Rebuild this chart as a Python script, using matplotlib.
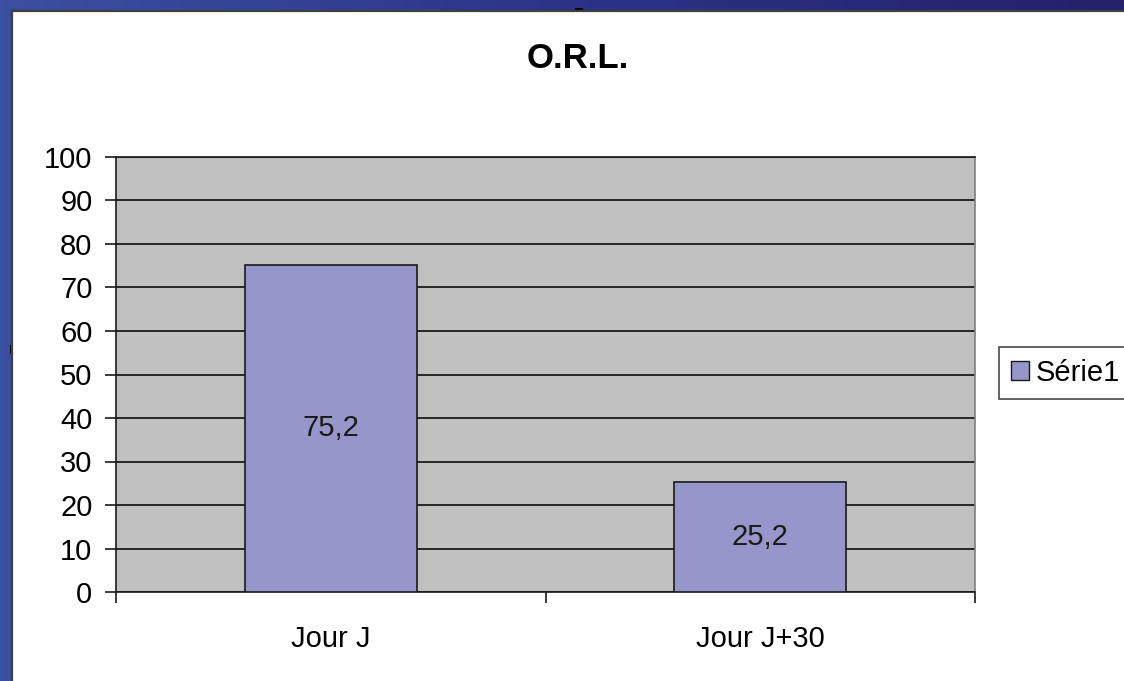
import numpy as np
import matplotlib
matplotlib.use("Agg")
import matplotlib.pyplot as plt
from matplotlib.patches import Rectangle, Patch
from matplotlib.colors import LinearSegmentedColormap

# data
categories = ["Jour J", "Jour J+30"]
values = [75.2, 25.2]
series_name = "Série1"
title = "O.R.L."
yticks = list(range(0, 101, 10))

plt.rcParams['font.family'] = ['Liberation Sans', 'DejaVu Sans']

W, H = 1124, 681
fig = plt.figure(figsize=(W / 100, H / 100), dpi=100)

# slide background (blue gradient) + white chart area
bg = fig.add_axes([0, 0, 1, 1])
bg.set_xlim(0, W)
bg.set_ylim(H, 0)
bg.axis('off')
cmap = LinearSegmentedColormap.from_list("slide", ["#3a50a2", "#2c3488", "#24206a"])
grad = np.linspace(0, 1, 256).reshape(1, -1)
bg.imshow(grad, cmap=cmap, extent=[0, W, H, 0], aspect='auto')
bg.add_patch(Rectangle((12, 10), W, H, facecolor='white', edgecolor='none'))
bg.plot([12, 12], [10, H], color='#404040', lw=1.6)
bg.plot([12, W], [11, 11], color='#404040', lw=1.6)
# small dark marks on the frame
bg.add_patch(Rectangle((575, 8), 8, 3, facecolor='black', edgecolor='none'))
bg.add_patch(Rectangle((10, 345), 3, 9, facecolor='black', edgecolor='none'))

# plot area
left, right, top, bottom = 116, 975, 157, 592
ax = fig.add_axes([left / W, 1 - bottom / H, (right - left) / W, (bottom - top) / H])
ax.set_facecolor('#c0c0c0')

x = np.arange(len(categories))
ax.bar(x, values, width=0.4, color='#9696ca', edgecolor='#1a1a1a', linewidth=1.2,
       zorder=3, label=series_name)
for xi, v in zip(x, values):
    ax.text(xi, v / 2, f"{v:.1f}".replace('.', ','), ha='center', va='center',
            fontsize=21, color='#1a1a1a', zorder=4)

ax.set_xlim(-0.5, len(categories) - 0.5)
ax.set_ylim(0, 100)
ax.set_yticks(yticks)
ax.set_yticklabels([str(t) for t in yticks])
ax.yaxis.grid(True, color='#1a1a1a', linewidth=1.3, zorder=1)
ax.set_axisbelow(True)

ax.set_xticks(x)
ax.set_xticklabels(categories)
ax.set_xticks(np.arange(-0.5, len(categories), 1.0), minor=True)
ax.tick_params(axis='x', which='major', length=0, pad=24, labelsize=21)
ax.tick_params(axis='x', which='minor', length=8, width=1.2, direction='out', color='#1a1a1a')
ax.tick_params(axis='y', length=8, width=1.2, direction='out', pad=9, labelsize=21,
               color='#1a1a1a')

for s in ['left', 'bottom', 'top']:
    ax.spines[s].set_color('#1a1a1a')
    ax.spines[s].set_linewidth(1.2)
ax.spines['right'].set_color('#808080')
ax.spines['right'].set_linewidth(1.2)

# title
fig.text(578 / W, 1 - 58 / H, title, ha='center', va='center',
         fontsize=25, fontweight='bold')

# legend
handle = Patch(facecolor='#9696ca', edgecolor='#1a1a1a', linewidth=1.0)
leg = fig.legend([handle], [series_name], loc='center left',
                 bbox_to_anchor=(999 / W, 1 - 373 / H), fontsize=21,
                 frameon=True, fancybox=False, edgecolor='#1a1a1a',
                 handlelength=0.62, handleheight=0.65, handletextpad=0.25,
                 borderpad=0.4, borderaxespad=0)
leg.get_frame().set_linewidth(1.2)

fig.savefig("out.png", dpi=100)
